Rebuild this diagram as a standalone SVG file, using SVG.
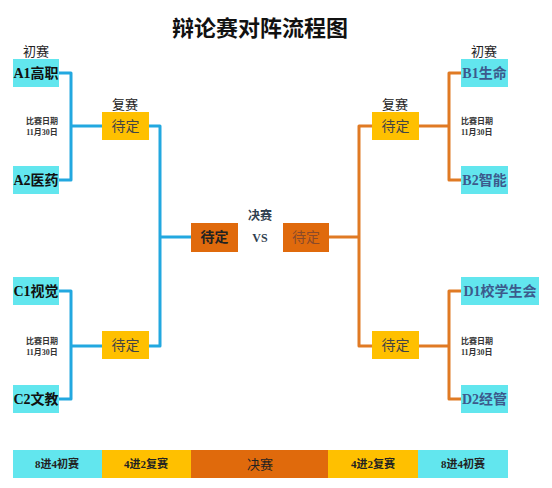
<svg xmlns="http://www.w3.org/2000/svg" width="552" height="488" viewBox="0 0 552 488">
<style>
.cy{fill:#62E6EE}
.ye{fill:#FFC000}
.or{fill:#E06A0C}
.bl{fill:none;stroke:#22A8E0;stroke-width:3;stroke-linejoin:round;stroke-linecap:round}
.ol{fill:none;stroke:#E07A24;stroke-width:3;stroke-linejoin:round;stroke-linecap:round}
.tn{font-family:"Liberation Serif","Noto Sans CJK SC",serif;font-weight:bold;font-size:14px;text-anchor:middle}
.tl{fill:#111}
.tr{fill:#3C5A8C}
.td{font-family:"Noto Sans CJK SC","Noto Sans",sans-serif;font-size:14px;fill:#444;text-anchor:middle}
.hd{font-family:"Noto Sans CJK SC","Noto Sans",sans-serif;font-size:13px;fill:#222;text-anchor:middle}
.dt{font-family:"Liberation Serif","Noto Sans CJK SC",serif;font-weight:bold;font-size:8px;fill:#333}
.bt{font-family:"Liberation Serif","Noto Sans CJK SC",serif;font-weight:bold;font-size:11px;fill:#222;text-anchor:middle}
</style>
<rect width="552" height="488" fill="#fff"/>
<text x="260" y="36" font-family="'Noto Sans CJK SC',sans-serif" font-weight="bold" font-size="22" fill="#111" text-anchor="middle">辩论赛对阵流程图</text>
<text class="hd" x="36" y="56">初赛</text>
<text class="hd" x="484" y="56">初赛</text>
<text class="hd" x="125" y="109">复赛</text>
<text class="hd" x="395" y="109">复赛</text>
<text x="260" y="220" font-family="'Noto Sans CJK SC',sans-serif" font-weight="bold" font-size="12" fill="#2F4050" text-anchor="middle">决赛</text>
<text x="260" y="242" font-family="'Liberation Serif',serif" font-weight="bold" font-size="12" fill="#2F4050" text-anchor="middle">VS</text>
<g class="dt">
<text x="42" y="124" text-anchor="middle">比赛日期</text>
<text x="42" y="135" text-anchor="middle">11月30日</text>
<text x="42" y="344" text-anchor="middle">比赛日期</text>
<text x="42" y="355" text-anchor="middle">11月30日</text>
<text x="461" y="124">比赛日期</text>
<text x="461" y="135">11月30日</text>
<text x="461" y="344">比赛日期</text>
<text x="461" y="355">11月30日</text>
</g>
<g id="connectors">
<path class="bl" d="M59,73 H71 V180 H59 M71,126 H102"/>
<path class="bl" d="M59,291 H71 V399 H59 M71,346 H102"/>
<path class="bl" d="M149,126 H160 V346 H149 M160,237 H191"/>
<path class="ol" d="M461,73 H449 V180 H461 M449,126 H419"/>
<path class="ol" d="M461,291 H449 V399 H461 M449,346 H419"/>
<path class="ol" d="M372,126 H359 V346 H372 M359,237 H329"/>
</g>
<g id="A1"><rect class="cy" x="13" y="59" width="46" height="28"/><text class="tn tl" x="36" y="78">A1高职</text></g>
<g id="A2"><rect class="cy" x="13" y="166" width="46" height="28"/><text class="tn tl" x="36" y="185">A2医药</text></g>
<g id="C1"><rect class="cy" x="13" y="277" width="46" height="28"/><text class="tn tl" x="36" y="296">C1视觉</text></g>
<g id="C2"><rect class="cy" x="13" y="385" width="46" height="28"/><text class="tn tl" x="36" y="404">C2文教</text></g>
<g id="B1"><rect class="cy" x="461" y="59" width="47" height="28"/><text class="tn tr" x="484.5" y="78">B1生命</text></g>
<g id="B2"><rect class="cy" x="461" y="166" width="47" height="28"/><text class="tn tr" x="484.5" y="185">B2智能</text></g>
<g id="D1"><rect class="cy" x="461" y="277" width="78" height="28"/><text class="tn tr" x="500" y="296">D1校学生会</text></g>
<g id="D2"><rect class="cy" x="461" y="385" width="47" height="28"/><text class="tn tr" x="484.5" y="404">D2经管</text></g>
<g id="SL1"><rect class="ye" x="102" y="112" width="47" height="28"/><text class="td" x="125.5" y="131">待定</text></g>
<g id="SL2"><rect class="ye" x="102" y="331" width="47" height="28"/><text class="td" x="125.5" y="350">待定</text></g>
<g id="SR1"><rect class="ye" x="372" y="112" width="47" height="28"/><text class="td" x="395.5" y="131">待定</text></g>
<g id="SR2"><rect class="ye" x="372" y="331" width="47" height="28"/><text class="td" x="395.5" y="350">待定</text></g>
<g id="FL"><rect class="or" x="191" y="223" width="47" height="29"/><text class="td" x="214.5" y="242" style="fill:#222;font-weight:bold">待定</text></g>
<g id="FR"><rect class="or" x="283" y="223" width="46" height="29"/><text class="td" x="306" y="242" style="fill:#8A4A2A">待定</text></g>
<g id="bar">
<rect class="cy" x="13" y="450" width="89" height="28"/>
<rect class="ye" x="102" y="450" width="89" height="28"/>
<rect class="or" x="191" y="450" width="137" height="28"/>
<rect class="ye" x="328" y="450" width="90" height="28"/>
<rect class="cy" x="418" y="450" width="90" height="28"/>
<text class="bt" x="57" y="468">8进4初赛</text>
<text class="bt" x="146" y="468">4进2复赛</text>
<text x="260" y="469" font-family="'Noto Sans CJK SC',sans-serif" font-size="13" fill="#222" text-anchor="middle">决赛</text>
<text class="bt" x="373" y="468">4进2复赛</text>
<text class="bt" x="463" y="468">8进4初赛</text>
</g>
</svg>
